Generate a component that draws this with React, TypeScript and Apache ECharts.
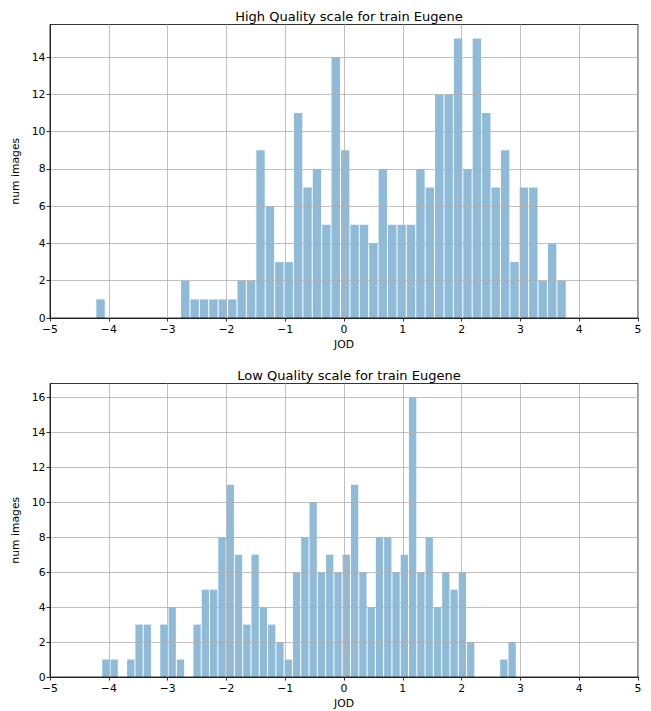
import React, { useEffect, useRef } from "react";
import * as echarts from "echarts";

// Histogram 1: High Quality (50 bins between min and max)
const hqRange = [-4.22, 3.78];
const hqCounts = [
  1, 0, 0, 0, 0, 0, 0, 0, 0, 2,
  1, 1, 1, 1, 1, 2, 2, 9, 6, 3,
  3, 11, 7, 8, 5, 14, 9, 5, 5, 4,
  8, 5, 5, 5, 8, 7, 12, 12, 15, 8,
  15, 11, 7, 9, 3, 7, 7, 2, 4, 2,
];

// Histogram 2: Low Quality (50 bins between min and max)
const lqRange = [-4.12, 2.93];
const lqCounts = [
  1, 1, 0, 1, 3, 3, 0, 3, 4, 1,
  0, 3, 5, 5, 8, 11, 7, 3, 7, 4,
  3, 2, 1, 6, 8, 10, 6, 7, 6, 7,
  11, 6, 4, 8, 8, 6, 7, 16, 6, 8,
  4, 6, 5, 6, 2, 0, 0, 0, 1, 2,
];

const titles = ["High Quality scale for train Eugene", "Low Quality scale for train Eugene"];
const xTicks = [-5, -4, -3, -2, -1, 0, 1, 2, 3, 4, 5];
const hqYTicks = [0, 2, 4, 6, 8, 10, 12, 14];
const lqYTicks = [0, 2, 4, 6, 8, 10, 12, 14, 16];
const xLabel = "JOD";
const yLabel = "num images";

function toBins(range: number[], counts: number[]) {
  const w = (range[1] - range[0]) / counts.length;
  return counts.map((c, i) => [range[0] + i * w, range[0] + (i + 1) * w, c]);
}

const FONT = "DejaVu Sans";
const TEXT = "#000000";
const GRID_COLOR = "#b0b0b0";
const FS = 10.8;

function fmtX(v: number) {
  return v < 0 ? "\u2212" + Math.abs(v) : String(v);
}

export default function App() {
  const ref = useRef<HTMLDivElement>(null);
  useEffect(() => {
    if (!ref.current) return;
    const chart = echarts.init(ref.current, null, { renderer: "svg" });
    const grids = [
      { left: 50, top: 24.5, right: 13, height: 293.5 },
      { left: 50, top: 383.5, right: 13, height: 293.5 },
    ];
    const yMax = [15.75, 16.8];
    const yTicks = [hqYTicks, lqYTicks];
    const mkX = (gi: number) => ({
      type: "value",
      gridIndex: gi,
      min: -5,
      max: 5,
      interval: 1,
      z: 3,
      name: xLabel,
      nameLocation: "middle",
      nameGap: 21,
      nameTextStyle: { fontFamily: FONT, fontSize: FS, color: TEXT },
      axisLine: { show: true, onZero: false, lineStyle: { color: "#000", width: 0.8 } },
      axisTick: { show: true, length: 3.5, lineStyle: { color: "#000", width: 0.8 }, customValues: xTicks },
      axisLabel: {
        fontFamily: FONT,
        fontSize: FS,
        color: TEXT,
        margin: 5.8,
        formatter: fmtX,
        customValues: xTicks,
      },
      splitLine: { show: true, lineStyle: { color: GRID_COLOR, width: 0.8 } },
    });
    const mkY = (gi: number) => ({
      type: "value",
      gridIndex: gi,
      min: 0,
      max: yMax[gi],
      interval: 2,
      z: 3,
      name: yLabel,
      nameLocation: "middle",
      nameGap: 26,
      nameTextStyle: { fontFamily: FONT, fontSize: FS, color: TEXT },
      axisLine: { show: true, onZero: false, lineStyle: { color: "#000", width: 0.8 } },
      axisTick: { show: true, length: 3.5, lineStyle: { color: "#000", width: 0.8 }, customValues: yTicks[gi] },
      axisLabel: {
        fontFamily: FONT,
        fontSize: FS,
        color: TEXT,
        margin: 4.5,
        customValues: yTicks[gi],
      },
      splitLine: { show: true, lineStyle: { color: GRID_COLOR, width: 0.8 } },
    });
    const renderItem = (params: any, api: any) => {
      const x0 = api.value(0);
      const x1 = api.value(1);
      const y = api.value(2);
      if (!y) return null;
      const p0 = api.coord([x0, y]);
      const p1 = api.coord([x1, 0]);
      return {
        type: "rect",
        shape: { x: p0[0] + 0.5, y: p0[1], width: p1[0] - p0[0] - 1, height: p1[1] - p0[1] },
        style: { fill: "#8fbbd9" },
      };
    };
    const titleStyle = { fontFamily: FONT, fontSize: 13, fontWeight: "normal", color: TEXT };
    chart.setOption({
      animation: false,
      backgroundColor: "#ffffff",
      title: [
        { text: titles[0], left: 344, top: 5, textAlign: "center", textStyle: titleStyle },
        { text: titles[1], left: 344, top: 364, textAlign: "center", textStyle: titleStyle },
      ],
      grid: grids.map((g) => ({ ...g, show: true, borderColor: "#000", borderWidth: 0.8, backgroundColor: "transparent", z: 3 })),
      xAxis: [mkX(0), mkX(1)],
      yAxis: [mkY(0), mkY(1)],
      series: [
        {
          type: "custom",
          xAxisIndex: 0,
          yAxisIndex: 0,
          renderItem,
          data: toBins(hqRange, hqCounts),
          encode: { x: [0, 1], y: 2 },
          z: 1,
        },
        {
          type: "custom",
          xAxisIndex: 1,
          yAxisIndex: 1,
          renderItem,
          data: toBins(lqRange, lqCounts),
          encode: { x: [0, 1], y: 2 },
          z: 1,
        },
      ],
    });
    return () => chart.dispose();
  }, []);
  return (
    <div
      ref={ref}
      style={{ position: "fixed", left: 0, top: 0, width: 651, height: 711 }}
    />
  );
}
